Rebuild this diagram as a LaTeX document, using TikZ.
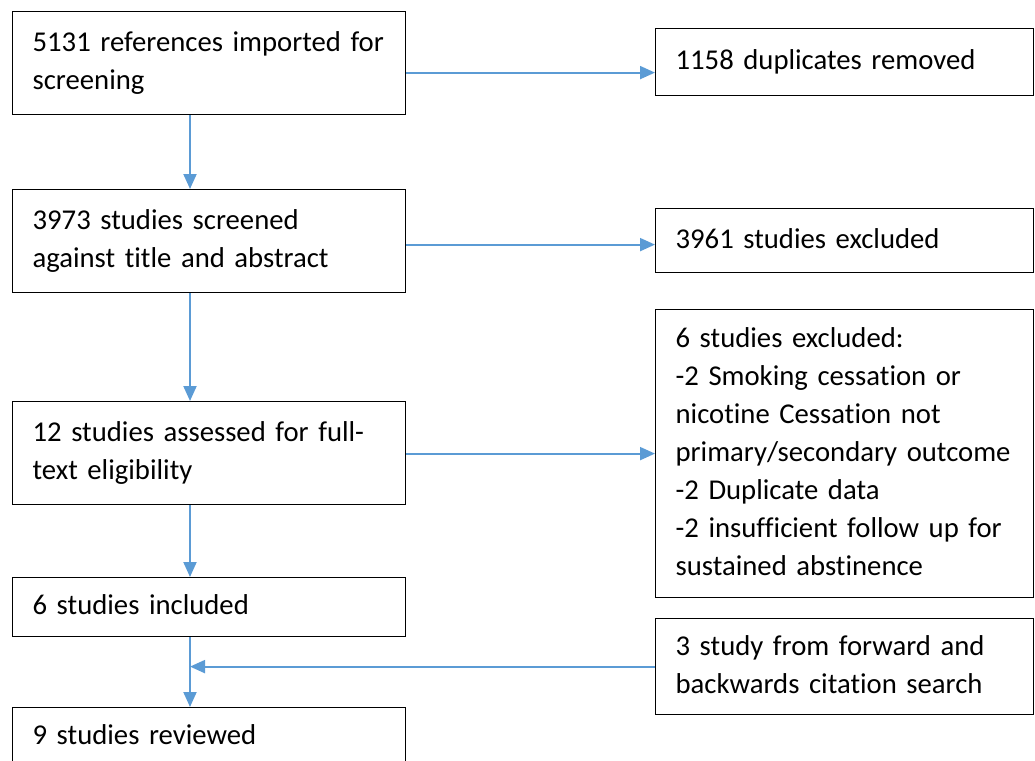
\documentclass[tikz,border=0pt]{standalone}
\usepackage{fontspec}
\setmainfont[Ligatures=NoCommon]{Carlito}
\usetikzlibrary{arrows.meta,calc}
\definecolor{arrowblue}{RGB}{91,155,213}
\begin{document}
\begin{tikzpicture}[x=1pt,y=-1pt,
  box/.style={draw=black, line width=1.2pt, rectangle, anchor=north west,
    inner xsep=20pt, inner ysep=0pt, align=left,
    font=\fontsize{28.7}{38}\selectfont,
    execute at begin node=\strut, execute at end node=\strut},
  lbox/.style={box, minimum width=393pt, text width=353pt},
  rbox/.style={box, minimum width=378pt, text width=338pt},
  arr/.style={draw=arrowblue, line width=2pt, -{Triangle[length=15pt,width=13pt]}}]
\useasboundingbox (0,0) rectangle (1035,760);
\clip (0,0) rectangle (1035,760);

\node[lbox, minimum height=103pt] (A) at (12,11) {\mbox{5131 references imported for}\\screening};
\node[lbox, minimum height=103pt] (B) at (12,189) {\mbox{3973 studies screened}\\\mbox{against title and abstract}};
\node[lbox, minimum height=103pt] (C) at (12,401) {\mbox{12 studies assessed for full-}\\text eligibility};
\node[lbox, minimum height=59pt] (D) at (12,577) {6 studies included};
\node[lbox, minimum height=59pt] (E) at (12,707) {9 studies reviewed};

\node[rbox, minimum height=67pt] (R1) at (655,28) {\mbox{1158 duplicates removed}};
\node[rbox, minimum height=64pt] (R2) at (655,208) {\mbox{3961 studies excluded}};
\node[rbox, minimum height=288pt] (R3) at (655,309) {6 studies excluded:\\\mbox{-2 Smoking cessation or}\\\mbox{nicotine Cessation not}\\\mbox{primary/secondary outcome}\\\mbox{-2 Duplicate data}\\\mbox{-2 insufficient follow up for}\\\mbox{sustained abstinence}};
\node[rbox, minimum height=96pt] (R4) at (655,618) {\mbox{3 study from forward and}\\\mbox{backwards citation search}};

% horizontal arrows
\coordinate (h1) at ($(A.east)+(0,-9.5pt)$);
\draw[arr] (h1) -- (h1 -| R1.west);
\coordinate (h2) at ($(B.east)+(0,-3.5pt)$);
\draw[arr] (h2) -- (h2 -| R2.west);
\coordinate (h3) at ($(C.east)+(0,-0.5pt)$);
\draw[arr] (h3) -- (h3 -| R3.west);

% vertical arrows
\coordinate (v1) at ($(A.south west)+(178pt,0)$);
\draw[arr] (v1) -- (v1 |- B.north);
\coordinate (v2) at ($(B.south west)+(178pt,0)$);
\draw[arr] (v2) -- (v2 |- C.north);
\coordinate (v3) at ($(C.south west)+(178pt,0)$);
\draw[arr] (v3) -- (v3 |- D.north);
\coordinate (v4) at ($(D.south west)+(178pt,0)$);
\draw[arr] (v4) -- (v4 |- E.north);

% merge arrow
\draw[arr] (R4.west) -- (R4.west -| v4);
\end{tikzpicture}
\end{document}
